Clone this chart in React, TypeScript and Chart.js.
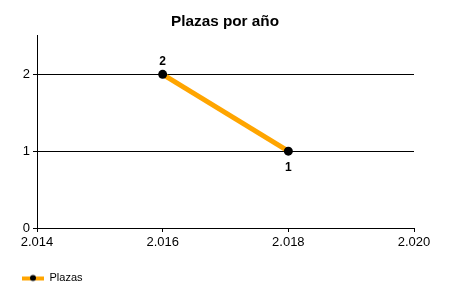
import React, { useEffect, useRef } from "react";
import { Chart, registerables } from "chart.js";

Chart.register(...registerables);

const titleText = "Plazas por año";
const seriesName = "Plazas";
const years = [2016, 2018];
const plazas = [2, 1];
const xMin = 2014;
const xMax = 2020;
const xStep = 2;
const yMin = 0;
const yMax = 2.5;
const yStep = 1;

const FONT = "'Liberation Sans', Arial, sans-serif";

function fmtThousands(v: number): string {
  const s = String(Math.round(v));
  return s.replace(/\B(?=(\d{3})+(?!\d))/g, ".");
}

function makeLegendIcon(): HTMLCanvasElement {
  const c = document.createElement("canvas");
  c.width = 22;
  c.height = 9;
  const ctx = c.getContext("2d")!;
  ctx.fillStyle = "#FFA500";
  ctx.fillRect(0, 3, 22, 4);
  ctx.fillStyle = "#000";
  ctx.beginPath();
  ctx.arc(11, 4.5, 3, 0, Math.PI * 2);
  ctx.fill();
  return c;
}

const dataLabelPlugin = {
  id: "dataLabels",
  afterDatasetsDraw(chart: any) {
    const ctx = chart.ctx;
    chart.data.datasets.forEach((ds: any, di: number) => {
      const meta = chart.getDatasetMeta(di);
      meta.data.forEach((pt: any, i: number) => {
        const v = ds.data[i].y;
        const prev = i > 0 ? ds.data[i - 1].y : -Infinity;
        const next = i < ds.data.length - 1 ? ds.data[i + 1].y : -Infinity;
        const above = v >= prev && v >= next;
        ctx.save();
        ctx.font = `bold 12px ${FONT}`;
        ctx.fillStyle = "#000";
        ctx.textAlign = "center";
        ctx.textBaseline = "middle";
        ctx.fillText(String(v), pt.x, above ? pt.y - 13 : pt.y + 17);
        ctx.restore();
      });
    });
  },
};

export default function App() {
  const ref = useRef<HTMLCanvasElement | null>(null);
  useEffect(() => {
    if (!ref.current) return;
    const chart = new Chart(ref.current, {
      type: "line",
      data: {
        datasets: [
          {
            label: seriesName,
            data: years.map((x, i) => ({ x, y: plazas[i] })),
            borderColor: "#FFA500",
            backgroundColor: "#000",
            borderWidth: 5,
            pointRadius: 4.5,
            pointBackgroundColor: "#000",
            pointBorderColor: "#000",
            pointBorderWidth: 0,
            tension: 0,
            fill: false,
            yAxisID: "y",
          },
        ],
      },
      options: {
        responsive: false,
        animation: false,
        layout: { padding: { left: 0, right: 0, top: 0, bottom: 6.5 } },
        scales: {
          x: {
            type: "linear",
            min: xMin,
            max: xMax,
            ticks: {
              stepSize: xStep,
              color: "#000",
              font: { family: FONT, size: 13 },
              padding: 3,
              maxRotation: 0,
              callback: (v: any) => fmtThousands(Number(v)),
            },
            grid: {
              drawOnChartArea: false,
              drawTicks: true,
              tickLength: 4,
              color: "#000",
            },
            border: { color: "#000", width: 1 },
            afterFit: (s: any) => {
              s.height = 22.5;
            },
          },
          y: {
            type: "linear",
            position: "left",
            min: yMin,
            max: yMax,
            ticks: {
              stepSize: yStep,
              includeBounds: false,
              color: "#000",
              font: { family: FONT, size: 13 },
              padding: 3,
            },
            grid: {
              drawOnChartArea: true,
              drawTicks: true,
              tickLength: 4,
              color: "#000",
            },
            border: { color: "#000", width: 1 },
            afterFit: (s: any) => {
              s.width = 37;
            },
          },
          yRightSpace: {
            type: "linear",
            position: "right",
            display: true,
            ticks: { display: false },
            grid: { display: false, drawTicks: false },
            border: { display: false },
            afterFit: (s: any) => {
              s.width = 36;
            },
          },
        },
        plugins: {
          title: {
            display: true,
            text: titleText,
            color: "#000",
            font: { family: FONT, size: 15.3, weight: "bold" },
            padding: { top: 12.5, bottom: 5.1 },
          },
          legend: {
            display: true,
            position: "bottom",
            align: "start",
            labels: {
              usePointStyle: true,
              pointStyle: makeLegendIcon() as any,
              pointStyleWidth: 22,
              color: "#000",
              font: { family: FONT, size: 11 },
              padding: 22,
            },
          },
          tooltip: { enabled: false },
        },
      } as any,
      plugins: [dataLabelPlugin],
    });
    return () => chart.destroy();
  }, []);
  return (
    <div style={{ position: "fixed", left: 0, top: 0, width: 450, height: 300, background: "#fff" }}>
      <canvas ref={ref} width={450} height={300} style={{ width: 450, height: 300, display: "block" }} />
    </div>
  );
}
